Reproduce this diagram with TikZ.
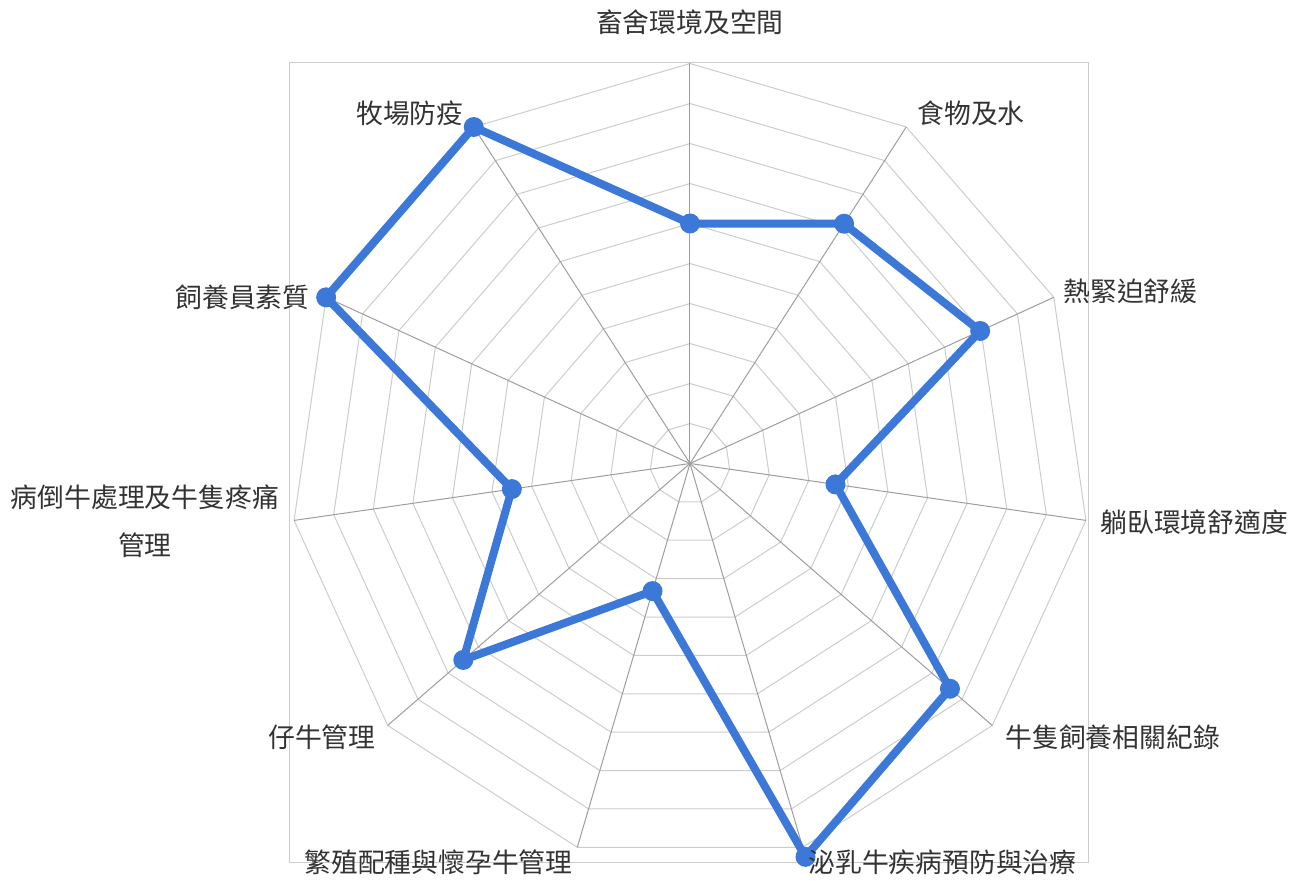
\documentclass[tikz,border=0pt]{standalone}
\usepackage{fontspec}
\newfontfamily\cjk{Noto Sans CJK TC}
\definecolor{chartblue}{HTML}{3C78D8}
\definecolor{ringgray}{HTML}{CCCCCC}
\definecolor{spokegray}{HTML}{9E9E9E}
\definecolor{labelgray}{HTML}{333333}
\tikzset{
  ring/.style={draw=ringgray, line width=0.5pt},
  spoke/.style={draw=spokegray, line width=0.5pt},
  axislabel/.style={font=\cjk\fontsize{13.4}{24}\selectfont, text=labelgray, inner sep=0pt},
  series/.style={draw=chartblue, line width=4pt, line join=round},
}
\begin{document}
\begin{tikzpicture}[x=0.5pt,y=0.5pt]
\useasboundingbox (-690,-417.5) rectangle (611,463.5);
% frame and web
\draw[ring] (-400,-399.5) rectangle (398,400.5);
\foreach \r in {1,...,10}
  \draw[ring] (90:\r*40) \foreach \k in {1,...,10} {-- (90-\k*360/11:\r*40)} -- cycle;
\foreach \k in {0,...,10}
  \draw[spoke] (0,0) -- (90-\k*360/11:400);
% scores
\coordinate (p0) at (90:240);
\coordinate (p1) at (90-1*360/11:285);
\coordinate (p2) at (90-2*360/11:319);
\coordinate (p3) at (90-3*360/11:147);
\coordinate (p4) at (90-4*360/11:344);
\coordinate (p5) at (90-5*360/11:410);
\coordinate (p6) at (90-6*360/11:133);
\coordinate (p7) at (90-7*360/11:300);
\coordinate (p8) at (90-8*360/11:180);
\coordinate (p9) at (90-9*360/11:400);
\coordinate (p10) at (90-10*360/11:400);
\draw[series] (p0) -- (p1) -- (p2) -- (p3) -- (p4) -- (p5) -- (p6) -- (p7) -- (p8) -- (p9) -- (p10) -- cycle;
\foreach \p in {p0,p1,p2,p3,p4,p5,p6,p7,p8,p9,p10}
  \fill[chartblue] (\p) circle [radius=10];
% axis labels
\node[axislabel] (space) at (0,441.5) {畜舍環境及空間};
\node[axislabel, anchor=west] (food) at (227,350.5) {食物及水};
\node[axislabel, anchor=west] (heat) at (373,172.5) {熱緊迫舒緩};
\node[axislabel, anchor=west] (rest) at (410,-58.5) {躺臥環境舒適度};
\node[axislabel, anchor=west] (records) at (315,-273.5) {牛隻飼養相關紀錄};
\node[axislabel, anchor=west] (milk) at (118,-398.5) {泌乳牛疾病預防與治療};
\node[axislabel, anchor=east] (breed) at (-117,-398.5) {繁殖配種與懷孕牛管理};
\node[axislabel, anchor=east] (calf) at (-314,-273.5) {仔牛管理};
\node[axislabel, align=center] (sick) at (-545,-57.5) {病倒牛處理及牛隻疼痛\\管理};
\node[axislabel, anchor=east] (staff) at (-380,166.5) {飼養員素質};
\node[axislabel, anchor=east] (biosec) at (-226,350.5) {牧場防疫};
\end{tikzpicture}
\end{document}
